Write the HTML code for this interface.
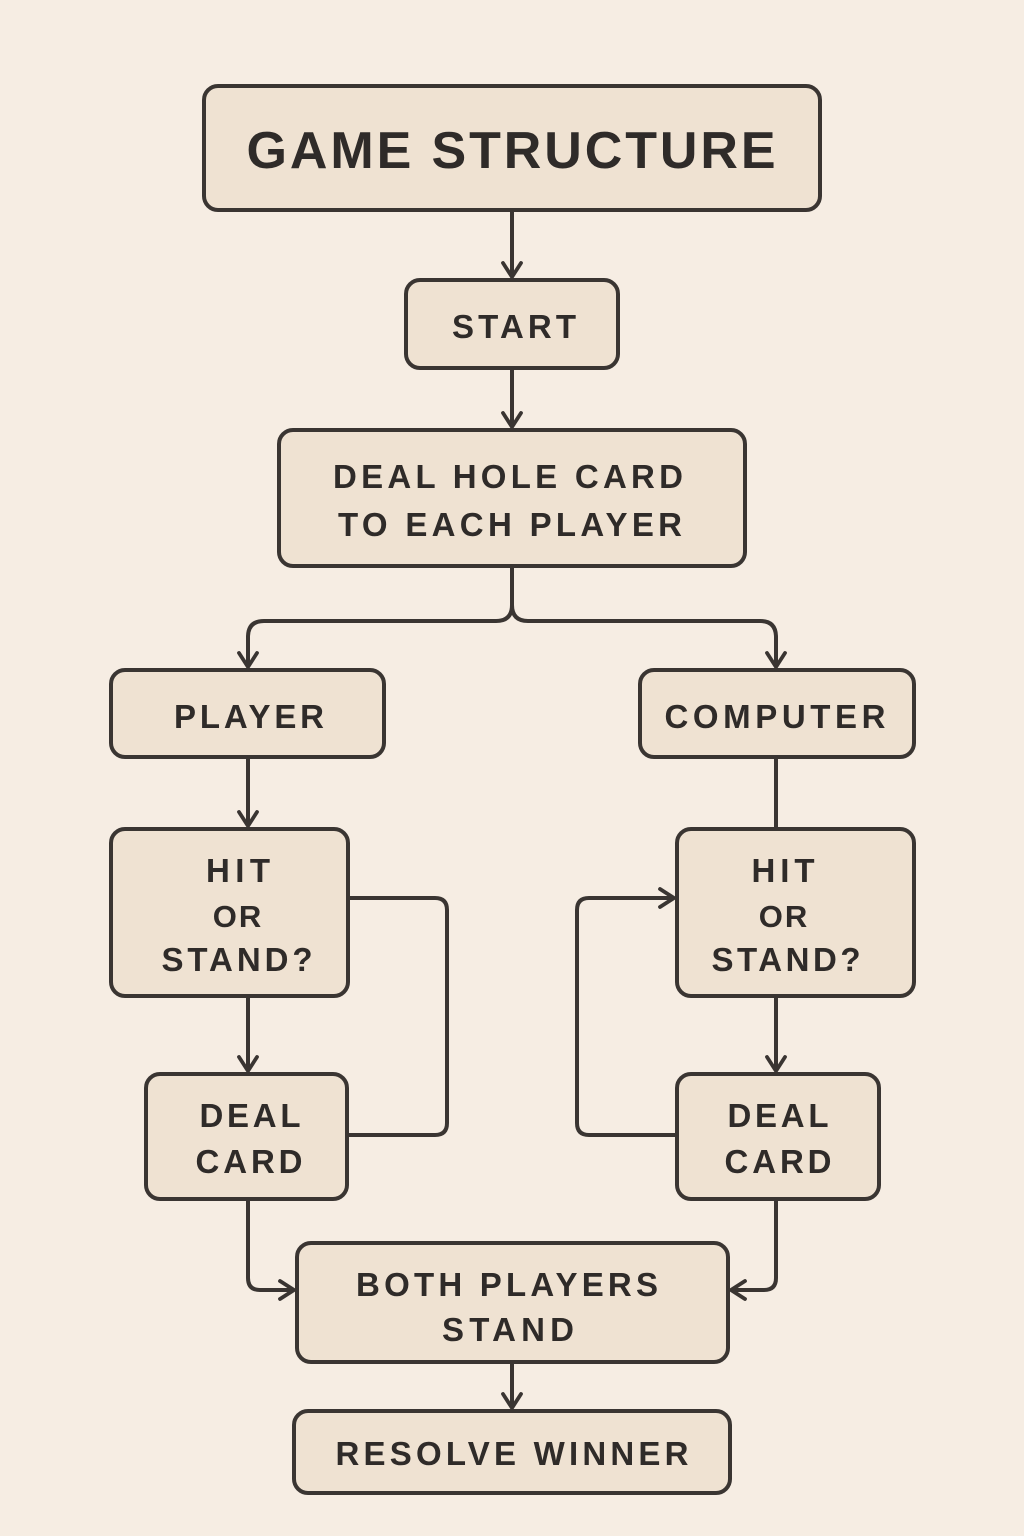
<!DOCTYPE html>
<html><head><meta charset="utf-8"><style>
html,body{margin:0;padding:0;background:#f6ede3;}
svg{display:block}
text{font-family:"Liberation Sans",sans-serif;font-weight:bold;fill:#2f2b29;text-anchor:middle}
</style></head><body>
<svg width="1024" height="1536" viewBox="0 0 1024 1536" xmlns="http://www.w3.org/2000/svg">
<defs>
<marker id="a" viewBox="0 0 24 24" refX="20" refY="12" markerWidth="24" markerHeight="24" markerUnits="userSpaceOnUse" orient="auto">
<path d="M6,3 L20,12 L6,21" fill="none" stroke="#3a3532" stroke-width="3.8" stroke-linecap="round" stroke-linejoin="round"/>
</marker>
</defs>
<rect width="1024" height="1536" fill="#f6ede3"/>
<g fill="none" stroke="#3a3532" stroke-width="4" stroke-linejoin="round">
<path d="M512 210 V277" marker-end="url(#a)"/>
<path d="M512 368 V427" marker-end="url(#a)"/>
<path d="M512 566 V605 Q512 621 496 621 H264 Q248 621 248 637 V667" marker-end="url(#a)"/>
<path d="M512 605 Q512 621 528 621 H760 Q776 621 776 637 V667" marker-end="url(#a)"/>
<path d="M248 757 V826" marker-end="url(#a)"/>
<path d="M776 757 V829"/>
<path d="M248 996 V1071" marker-end="url(#a)"/>
<path d="M776 996 V1071" marker-end="url(#a)"/>
<path d="M348 898 H435 Q447 898 447 910 V1123 Q447 1135 435 1135 H347"/>
<path d="M677 1135 H589 Q577 1135 577 1123 V910 Q577 898 589 898 H674" marker-end="url(#a)"/>
<path d="M248 1199 V1278 Q248 1290 260 1290 H294" marker-end="url(#a)"/>
<path d="M776 1199 V1278 Q776 1290 764 1290 H731" marker-end="url(#a)"/>
<path d="M512 1362 V1408" marker-end="url(#a)"/>
</g>
<g fill="#efe2d2" stroke="#3a3532" stroke-width="4">
<rect x="204" y="86" width="616" height="124" rx="14"/>
<rect x="406" y="280" width="212" height="88" rx="14"/>
<rect x="279" y="430" width="466" height="136" rx="14"/>
<rect x="111" y="670" width="273" height="87" rx="14"/>
<rect x="640" y="670" width="274" height="87" rx="14"/>
<rect x="111" y="829" width="237" height="167" rx="14"/>
<rect x="677" y="829" width="237" height="167" rx="14"/>
<rect x="146" y="1074" width="201" height="125" rx="14"/>
<rect x="677" y="1074" width="202" height="125" rx="14"/>
<rect x="297" y="1243" width="431" height="119" rx="14"/>
<rect x="294" y="1411" width="436" height="82" rx="14"/>
</g>
<text x="511" y="168" font-size="52" textLength="529" lengthAdjust="spacing">GAME STRUCTURE</text>
<g font-size="33">
<text x="514" y="338" textLength="124" lengthAdjust="spacing">START</text>
<text x="508" y="488" textLength="350" lengthAdjust="spacing">DEAL HOLE CARD</text>
<text x="510" y="536" textLength="344" lengthAdjust="spacing">TO EACH PLAYER</text>
<text x="249" y="728" textLength="150" lengthAdjust="spacing">PLAYER</text>
<text x="775" y="728" textLength="221" lengthAdjust="spacing">COMPUTER</text>
<text x="238" y="882" textLength="64" lengthAdjust="spacing">HIT</text>
<text x="238" y="927" font-size="31" letter-spacing="2">OR</text>
<text x="237" y="971" textLength="151" lengthAdjust="spacing">STAND?</text>
<text x="783" y="882" textLength="63" lengthAdjust="spacing">HIT</text>
<text x="784" y="927" font-size="31" letter-spacing="2">OR</text>
<text x="786" y="971" textLength="149" lengthAdjust="spacing">STAND?</text>
<text x="250" y="1127" textLength="101" lengthAdjust="spacing">DEAL</text>
<text x="249" y="1173" textLength="107" lengthAdjust="spacing">CARD</text>
<text x="778" y="1127" textLength="101" lengthAdjust="spacing">DEAL</text>
<text x="778" y="1173" textLength="107" lengthAdjust="spacing">CARD</text>
<text x="507" y="1296" textLength="302" lengthAdjust="spacing">BOTH PLAYERS</text>
<text x="508" y="1341" textLength="132" lengthAdjust="spacing">STAND</text>
<text x="512" y="1465" textLength="353" lengthAdjust="spacing">RESOLVE WINNER</text>
</g>
</svg>
</body></html>
